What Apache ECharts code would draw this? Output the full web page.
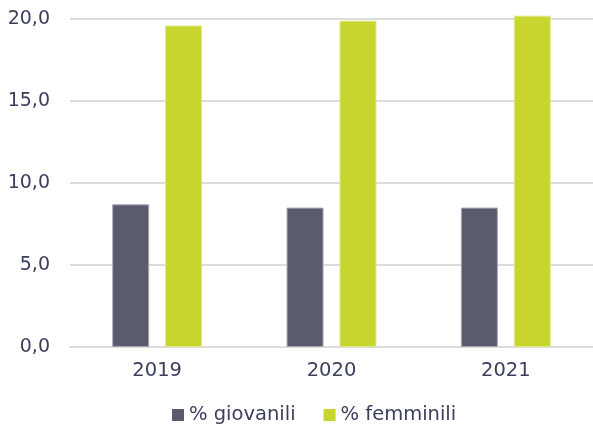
<!DOCTYPE html>
<html>
<head>
<meta charset="utf-8">
<script src="https://cdn.jsdelivr.net/npm/echarts@6/dist/echarts.min.js"></script>
<style>
  html, body { margin: 0; padding: 0; background: #fff; }
  #chart { width: 593px; height: 425px; }
</style>
</head>
<body>
<div id="chart"></div>
<script>
const years = ['2019', '2020', '2021'];
const giovanili = [8.7, 8.5, 8.5];
const femminili = [19.6, 19.9, 20.2];
const yTicks = [0, 5, 10, 15, 20];

const textColor = '#3b3f5c';
const font = 'DejaVu Sans';

const myChart = echarts.init(document.getElementById('chart'));
myChart.setOption({
  animation: false,
  color: ['#5a5b6d', '#c8d52f'],
  grid: {
    left: 70,
    right: 0,
    top: 19,
    bottom: 78
  },
  legend: {
    left: 167,
    top: 400,
    itemWidth: 12,
    itemHeight: 12,
    itemGap: 28,
    icon: 'rect',
    itemStyle: { borderWidth: 0 },
    textStyle: { color: textColor, fontSize: 19.5, fontFamily: font, padding: [0, 0, 0, 0] },
    data: ['% giovanili', '% femminili']
  },
  xAxis: {
    type: 'category',
    data: years,
    axisTick: { show: false },
    axisLine: { lineStyle: { color: '#dcdcdc', width: 2 } },
    axisLabel: { color: textColor, fontSize: 19.5, fontFamily: font, margin: 14 }
  },
  yAxis: {
    type: 'value',
    min: yTicks[0],
    max: yTicks[yTicks.length - 1],
    interval: 5,
    axisLine: { show: false },
    axisTick: { show: false },
    splitLine: { lineStyle: { color: '#dcdcdc', width: 2 } },
    axisLabel: {
      color: textColor,
      fontSize: 19,
      fontFamily: font,
      margin: 20,
      formatter: v => v.toFixed(1).replace('.', ',')
    }
  },
  series: [
    {
      name: '% giovanili',
      type: 'bar',
      data: giovanili,
      barWidth: 37,
      barGap: '43%',
      clip: false,
      itemStyle: { borderColor: '#a9a9b4', borderWidth: 1 }
    },
    {
      name: '% femminili',
      type: 'bar',
      data: femminili,
      barWidth: 37,
      clip: false,
      itemStyle: { borderColor: '#dfe68a', borderWidth: 1 }
    }
  ]
});
</script>
</body>
</html>
